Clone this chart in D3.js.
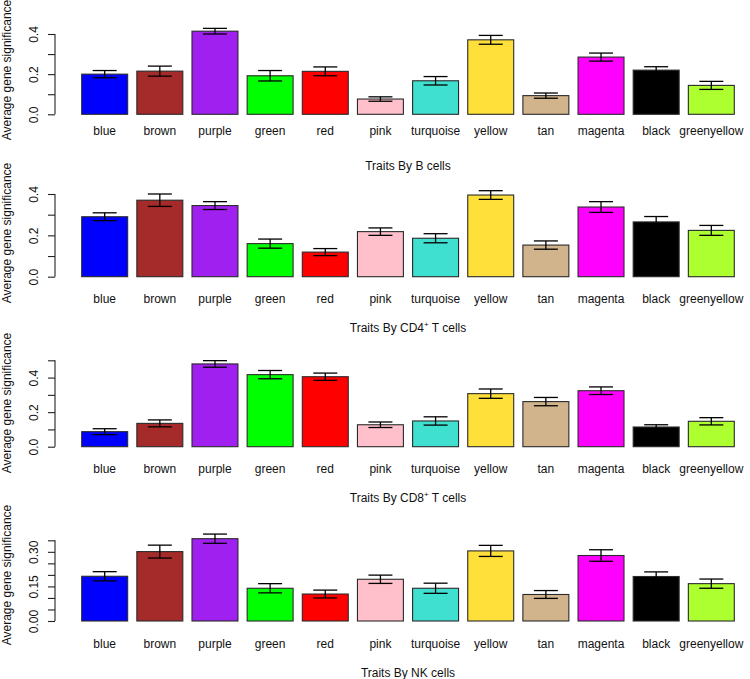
<!DOCTYPE html>
<html>
<head>
<meta charset="utf-8">
<script src="https://cdn.jsdelivr.net/npm/d3@7"></script>
<style>
  html, body { margin: 0; padding: 0; background: #fff; }
  svg { display: block; font-family: "Liberation Sans", Arial, Helvetica, sans-serif; }
</style>
</head>
<body>
<svg id="chart" width="750" height="679"></svg>
<script>
// ---------------- data ----------------
const categories = ["blue","brown","purple","green","red","pink","turquoise","yellow","tan","magenta","black","greenyellow"];
const barColors  = ["#0000FF","#A52A2A","#A020F0","#00FF00","#FF0000","#FFC0CB","#40E0D0","#FFDF3A","#D2B48C","#FF00FF","#000000","#ADFF2F"];

const bMeans   = [0.200,0.215,0.414,0.192,0.214,0.076,0.167,0.371,0.093,0.285,0.220,0.144];
const bErr     = [0.018,0.025,0.014,0.026,0.022,0.011,0.021,0.022,0.013,0.020,0.017,0.020];

const cd4Means = [0.290,0.370,0.344,0.160,0.119,0.218,0.186,0.395,0.153,0.337,0.265,0.224];
const cd4Err   = [0.019,0.030,0.019,0.022,0.017,0.018,0.022,0.021,0.020,0.026,0.026,0.024];

const cd8Means = [0.087,0.135,0.479,0.417,0.405,0.127,0.149,0.307,0.261,0.324,0.114,0.147];
const cd8Err   = [0.017,0.020,0.019,0.024,0.021,0.016,0.024,0.027,0.024,0.022,0.013,0.021];

const nkMeans  = [0.194,0.301,0.357,0.142,0.117,0.181,0.142,0.304,0.115,0.284,0.193,0.162];
const nkErr    = [0.020,0.028,0.020,0.020,0.017,0.018,0.022,0.024,0.017,0.025,0.020,0.020];

const bTicks   = [0,0.1,0.2,0.3,0.4];
const bLabels  = ["0.0","","0.2","","0.4"];
const cd4Ticks = [0,0.1,0.2,0.3,0.4];
const cd4Labels= ["0.0","","0.2","","0.4"];
const cd8Ticks = [0,0.1,0.2,0.3,0.4,0.5];
const cd8Labels= ["0.0","","0.2","","0.4",""];
const nkTicks  = [0,0.05,0.10,0.15,0.20,0.25,0.30,0.35];
const nkLabels = ["0.00","","","0.15","","","0.30",""];

const yTitle = "Average gene significance";

// ---------------- layout ----------------
const panels = [
  {means:bMeans,   err:bErr,   ticks:bTicks,   labels:bLabels,   title:["Traits By B cells"],
   zeroY:114.3, topY:34.0,  xLabY:135.0, titleY:170.0, yLabC:70},
  {means:cd4Means, err:cd4Err, ticks:cd4Ticks, labels:cd4Labels, title:["Traits By CD4","+"," T cells"],
   zeroY:276.7, topY:194.0, xLabY:303.3, titleY:331.6, yLabC:233},
  {means:cd8Means, err:cd8Err, ticks:cd8Ticks, labels:cd8Labels, title:["Traits By CD8","+"," T cells"],
   zeroY:446.7, topY:360.3, xLabY:473.3, titleY:501.6, yLabC:403},
  {means:nkMeans,  err:nkErr,  ticks:nkTicks,  labels:nkLabels,  title:["Traits By NK cells"],
   zeroY:621.0, topY:540.3, xLabY:647.6, titleY:676.6, yLabC:575}
];

const svg = d3.select("#chart");
const axisX = 55;

const x = d3.scaleBand()
  .domain(categories)
  .range([81.7, 734.3])
  .paddingInner(1/6)
  .paddingOuter(0);

const colorScale = d3.scaleOrdinal().domain(categories).range(barColors);

panels.forEach(p => {
  const maxTick = p.ticks[p.ticks.length - 1];
  const y = d3.scaleLinear().domain([0, maxTick]).range([p.zeroY, p.topY]);
  const g = svg.append("g");

  // bars
  g.selectAll("rect.bar").data(categories).join("rect")
    .attr("class","bar")
    .attr("x", d => x(d))
    .attr("width", x.bandwidth())
    .attr("y", (d,i) => y(p.means[i]))
    .attr("height", (d,i) => y(0) - y(p.means[i]))
    .attr("fill", d => colorScale(d))
    .attr("stroke", "#2a2a2a")
    .attr("stroke-width", 1.1);

  // error bars
  const eb = g.selectAll("g.eb").data(categories).join("g").attr("class","eb");
  const cx = d => x(d) + x.bandwidth()/2;
  const capW = 12;
  eb.append("line")
    .attr("x1", cx).attr("x2", cx)
    .attr("y1", (d,i) => y(p.means[i] + p.err[i]))
    .attr("y2", (d,i) => y(p.means[i] - p.err[i]))
    .attr("stroke","#000").attr("stroke-width",1.3);
  eb.append("line")
    .attr("x1", d => cx(d) - capW).attr("x2", d => cx(d) + capW)
    .attr("y1", (d,i) => y(p.means[i] + p.err[i]))
    .attr("y2", (d,i) => y(p.means[i] + p.err[i]))
    .attr("stroke","#000").attr("stroke-width",1.3);
  eb.append("line")
    .attr("x1", d => cx(d) - capW).attr("x2", d => cx(d) + capW)
    .attr("y1", (d,i) => y(p.means[i] - p.err[i]))
    .attr("y2", (d,i) => y(p.means[i] - p.err[i]))
    .attr("stroke","#000").attr("stroke-width",1.3);

  // category labels
  g.selectAll("text.cat").data(categories).join("text")
    .attr("class","cat")
    .attr("x", d => cx(d))
    .attr("y", p.xLabY)
    .attr("text-anchor","middle")
    .attr("font-size", 12)
    .attr("fill", "#111")
    .text(d => d);

  // y axis
  const axis = d3.axisLeft(y)
    .tickValues(p.ticks)
    .tickSize(7)
    .tickSizeOuter(0)
    .tickFormat((d,i) => p.labels[i]);
  const ag = g.append("g").attr("transform", `translate(${axisX},0)`).call(axis);
  ag.select(".domain").attr("stroke","#222").attr("stroke-width",1.1)
    .attr("d", `M0,${y(0)}V${y(maxTick)}`);
  ag.selectAll(".tick line").attr("stroke","#222").attr("stroke-width",1.1);
  ag.selectAll(".tick text")
    .attr("font-size", 12)
    .attr("font-family", "Liberation Sans, Arial, sans-serif")
    .attr("fill", "#111")
    .attr("x", null).attr("dy", null)
    .attr("text-anchor","middle")
    .attr("transform", "translate(-17,0) rotate(-90)");

  // y title
  g.append("text")
    .attr("transform", `translate(11,${p.yLabC}) rotate(-90)`)
    .attr("text-anchor","middle")
    .attr("font-size", 12)
    .attr("fill", "#111")
    .text(yTitle);

  // panel title
  const t = g.append("text")
    .attr("x", 408)
    .attr("y", p.titleY)
    .attr("text-anchor","middle")
    .attr("font-size", 12)
    .attr("fill", "#111");
  if (p.title.length === 1) {
    t.text(p.title[0]);
  } else {
    t.append("tspan").text(p.title[0]);
    t.append("tspan").attr("font-size", 8).attr("dy", -5).text(p.title[1]);
    t.append("tspan").attr("dy", 5).text(p.title[2]);
  }
});
</script>
</body>
</html>
